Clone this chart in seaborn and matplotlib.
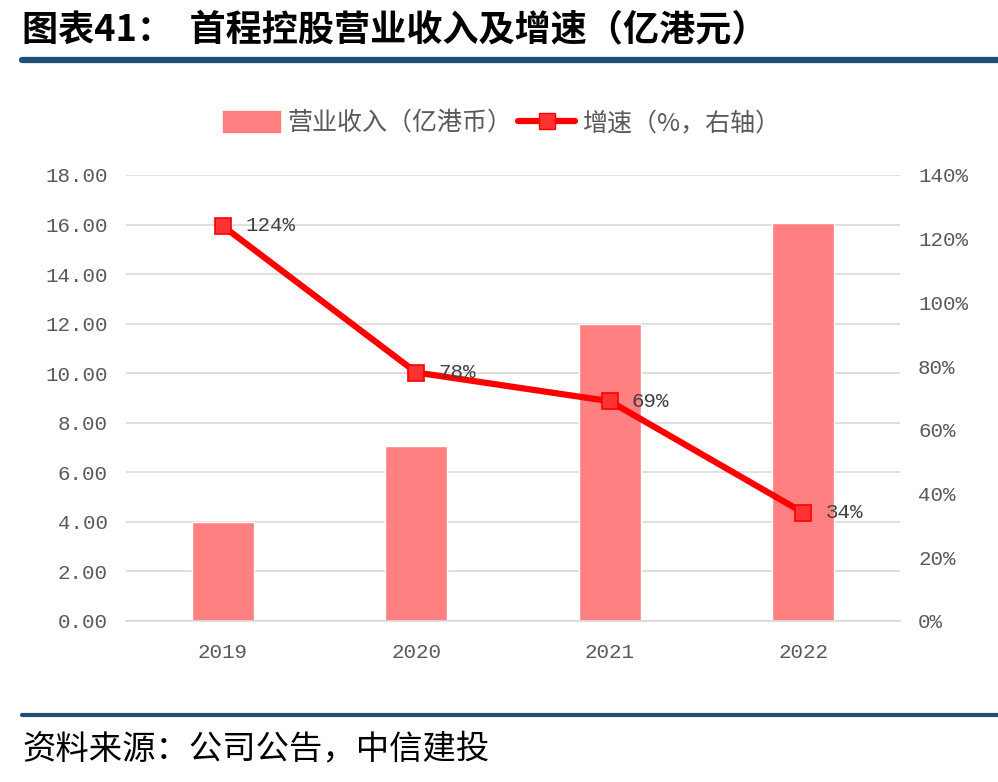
#!/usr/bin/env python3
"""首程控股营业收入及增速 chart."""

import matplotlib
matplotlib.use("Agg")
import matplotlib.pyplot as plt
import matplotlib.ticker as mticker
from matplotlib.lines import Line2D
from matplotlib.patches import Patch
import pandas as pd
import seaborn as sns

years = ["2019", "2020", "2021", "2022"]
revenue = [3.98, 7.06, 11.99, 16.05]
growth = [124, 78, 69, 34]
growth_labels = ["124%", "78%", "69%", "34%"]

sns.set_theme(style="white")
plt.rcParams["font.family"] = ["Noto Sans CJK SC", "DejaVu Sans"]

BAR = "#FF8080"
LINE = "#FF0000"
GREY = "#595959"
BLUE = "#1F4E79"
MONO = ["Liberation Mono", "DejaVu Sans Mono"]

df = pd.DataFrame({"year": years, "revenue": revenue, "growth": growth})

W, H = 998, 782
fig = plt.figure(figsize=(W / 100, H / 100), dpi=100)
ax = fig.add_axes([126 / W, (H - 621) / H, (900 - 126) / W, (621 - 175) / H])

sns.barplot(data=df, x="year", y="revenue", color=BAR, width=0.32,
            saturation=1, ax=ax, zorder=2)
ax.set_ylim(0, 18)
ax.set_yticks(range(0, 19, 2))
ax.yaxis.set_major_formatter(mticker.FormatStrFormatter("%.2f"))
ax.grid(axis="y", color="#D9D9D9", linewidth=1.2, zorder=0)
ax.set_axisbelow(True)
ax.set_xlabel("")
ax.set_ylabel("")
for s in ["top", "left", "right"]:
    ax.spines[s].set_visible(False)
ax.spines["bottom"].set_color("#D9D9D9")
ax.spines["bottom"].set_linewidth(1.2)
ax.tick_params(axis="y", length=0, labelcolor=GREY, pad=13)
ax.tick_params(axis="x", length=0, labelcolor=GREY, pad=16)
ax.set_xticks([i - 0.5 for i in range(len(years) + 1)], minor=True)
ax.tick_params(axis="x", which="minor", direction="in", length=6,
               color="#D9D9D9", width=1.2)

ax2 = ax.twinx()
ax2.plot(range(len(years)), df["growth"], color=LINE, linewidth=4.5,
         marker="s", markersize=11, markerfacecolor="#FF3333",
         markeredgecolor=LINE, markeredgewidth=1.2, zorder=3)
ax2.set_ylim(0, 140)
ax2.set_yticks(range(0, 141, 20))
ax2.yaxis.set_major_formatter(mticker.FuncFormatter(lambda v, p: f"{v:.0f}%"))
ax2.tick_params(axis="y", length=0, labelcolor=GREY, pad=13)
for s in ax2.spines.values():
    s.set_visible(False)
ax.set_xlim(-0.5, len(years) - 0.5)

for lab in ax.get_yticklabels() + ax.get_xticklabels() + ax2.get_yticklabels():
    lab.set_family(MONO)
    lab.set_fontsize(15)

for i, (g, lab) in enumerate(zip(growth, growth_labels)):
    ax2.annotate(lab, (i, g), xytext=(16, 0), textcoords="offset points",
                 va="center", ha="left", fontsize=15, color="#404040",
                 family=MONO)

handles = [
    Patch(facecolor=BAR, edgecolor=BAR),
    Line2D([0], [0], color=LINE, linewidth=4.5, marker="s", markersize=11,
           markerfacecolor="#FF3333", markeredgecolor=LINE),
]
fig.legend(handles, ["营业收入（亿港币）", "增速（%，右轴）"],
           loc="center", bbox_to_anchor=(502 / W, 1 - 123 / H), ncol=2,
           frameon=False, fontsize=18, labelcolor=GREY, handlelength=2.3,
           handleheight=0.9, columnspacing=0.2, handletextpad=0.3)

fig.text(22 / W, 1 - 30 / H, "图表41：  首程控股营业收入及增速（亿港元）",
         fontsize=26, fontweight="bold", va="center", ha="left", color="black")
fig.add_artist(Line2D([22 / W, 1], [1 - 60 / H] * 2, color=BLUE, linewidth=4.5))
fig.add_artist(Line2D([22 / W, 1], [1 - 715 / H] * 2, color=BLUE, linewidth=3))
fig.text(22 / W, 1 - 749 / H, "资料来源：公司公告，中信建投",
         fontsize=24, style="italic", va="center", ha="left", color="black")

fig.savefig("out.png", dpi=100)
